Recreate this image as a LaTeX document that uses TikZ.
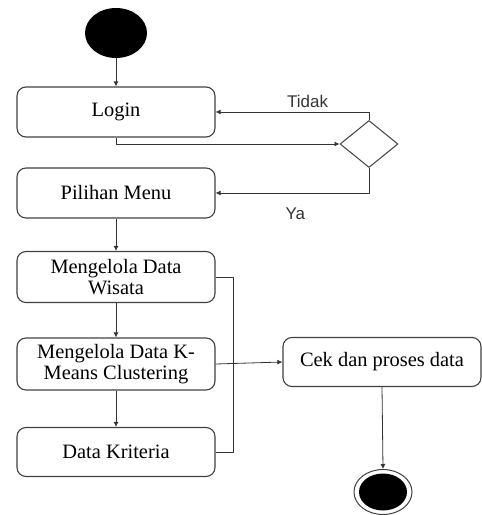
\documentclass[tikz,border=0pt]{standalone}
\usepackage{fontspec}
\setmainfont{Liberation Serif}
\newfontfamily\labelfont{Liberation Sans}
\usetikzlibrary{arrows.meta,shapes.geometric}
\tikzset{
  actbox/.style={draw=black!75, line width=1.1bp, rounded corners=9bp, minimum width=198bp,
    minimum height=50bp, align=center, inner sep=0pt, font=\fontsize{20.5}{21.5}\selectfont},
  flow/.style={->, draw=black!80, line width=0.8bp},
  guard/.style={font=\labelfont\fontsize{17}{18}\selectfont, text=black!80}
}
\begin{document}
\begin{tikzpicture}[x=1bp, y=-1bp, >={Latex[length=5bp,width=5bp]}, line join=round]
	\useasboundingbox (0,0) rectangle (482,515);
	% start / end
	\node[ellipse, fill=black, minimum width=62bp, minimum height=50bp, inner sep=0pt] (start) at (116,33) {};
	\node[ellipse, draw=black!75, line width=1bp, minimum width=58bp, minimum height=45bp, inner sep=0pt] (end) at (383,492) {};
	\node[ellipse, fill=black, minimum width=48bp, minimum height=37bp, inner sep=0pt] (endin) at (end) {};
	% activities
	\node[actbox] (login) at (116,112) {Login};
	\node[actbox] (menu) at (116,193) {Pilihan Menu};
	\node[actbox, minimum height=51bp] (wisata) at (116,277) {Mengelola Data\\Wisata};
	\node[actbox, minimum height=52bp] (kmeans) at (116,364) {Mengelola Data K-\\Means Clustering};
	\node[actbox, minimum height=49bp] (kriteria) at (116,452) {Data Kriteria};
	\node[actbox, minimum height=49bp] (cek) at (382,362) {Cek dan proses data};
	\node[diamond, draw=black!75, line width=1bp, minimum width=58bp, minimum height=47bp, shape aspect=1.23, inner sep=0pt] (dec) at (369,144) {};
	% flows
	\draw[flow] (start) -- (login);
	\draw[flow] (login.south) |- (dec.west);
	\draw[flow] (dec.north) |- (login.east) node[guard, above, pos=0.7, yshift=1bp] {Tidak};
	\draw[flow] (dec.south) |- (menu.east) node[guard, below, pos=0.74, yshift=-11bp] {Ya};
	\draw[flow] (menu) -- (wisata);
	\draw[flow] (wisata) -- (kmeans);
	\draw[flow] (kmeans) -- (kriteria);
	\coordinate (join) at ([xshift=18bp]wisata.east);
	\draw[draw=black!80, line width=0.8bp] (wisata.east) -- (join) |- (kriteria.east);
	\draw[flow] (kmeans.east) -- (cek.west);
	\draw[flow] (cek.south) -- (end.north);
\end{tikzpicture}
\end{document}
